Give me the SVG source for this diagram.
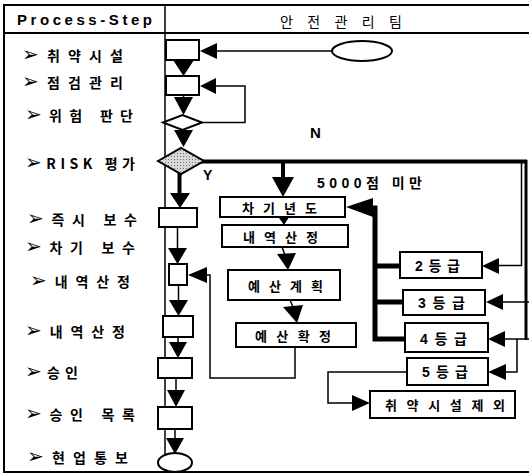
<svg xmlns="http://www.w3.org/2000/svg" width="529" height="474" viewBox="0 0 529 474">
<style>
.frame{stroke:#000;stroke-width:2;fill:none}
.box{fill:#fff;stroke:#000;stroke-width:2}
.ln{fill:none;stroke:#000;stroke-width:1.5}
.thk{fill:none;stroke:#000;stroke-width:4}
.bus{fill:none;stroke:#000;stroke-width:5}
.ah{fill:#000;stroke:none}
.lbl{font-family:"Noto Sans CJK KR","DejaVu Sans",sans-serif;font-size:14px;font-weight:bold;fill:#000}
.bul{font-family:"DejaVu Sans",sans-serif;font-size:20px;font-weight:normal}
.bt{font-family:"Noto Sans CJK KR","DejaVu Sans",sans-serif;font-size:13px;font-weight:bold;fill:#000}
.bb{font-family:"Liberation Sans","Noto Sans CJK KR",sans-serif;font-size:14px;font-weight:bold;fill:#000}
.hd{font-family:"Liberation Sans","Noto Sans CJK KR",sans-serif;font-size:15px;font-weight:bold;fill:#000}
</style>
<defs>
<pattern id="dots" width="3" height="3" patternUnits="userSpaceOnUse"><rect width="3" height="3" fill="#d8d8d8"/><rect width="1" height="1" fill="#707070"/></pattern>
</defs>
<rect width="529" height="474" fill="#fff"/>
<g id="frame">
<line class="frame" x1="3" y1="5" x2="529" y2="5"/>
<line class="frame" x1="3" y1="33" x2="529" y2="33"/>
<line class="frame" x1="3" y1="472" x2="529" y2="472"/>
<line class="frame" x1="4" y1="4" x2="4" y2="473"/>
<line class="frame" x1="165" y1="4" x2="165" y2="473" style="stroke-width:1.5"/>
<text class="hd" x="17" y="25" textLength="135" lengthAdjust="spacing">Process-Step</text>
<text class="lbl" x="280" y="27" textLength="122" lengthAdjust="spacing" style="font-weight:normal">안 전 관 리 팀</text>
</g>
<g id="labels">
<text class="lbl" x="22" y="61" textLength="101" lengthAdjust="spacing"><tspan class="bul">➢</tspan>취약시설</text>
<text class="lbl" x="22" y="88" textLength="101" lengthAdjust="spacing"><tspan class="bul">➢</tspan>점검관리</text>
<text class="lbl" x="25" y="121" textLength="108" lengthAdjust="spacing"><tspan class="bul">➢</tspan>위험 판단</text>
<text class="lbl" x="25" y="169" textLength="110" lengthAdjust="spacing"><tspan class="bul">➢</tspan>RISK 평가</text>
<text class="lbl" x="27" y="225" textLength="110" lengthAdjust="spacing"><tspan class="bul">➢</tspan>즉시 보수</text>
<text class="lbl" x="25" y="253" textLength="110" lengthAdjust="spacing"><tspan class="bul">➢</tspan>차기 보수</text>
<text class="lbl" x="30" y="287" textLength="100" lengthAdjust="spacing"><tspan class="bul">➢</tspan>내역산정</text>
<text class="lbl" x="25" y="337" textLength="100" lengthAdjust="spacing"><tspan class="bul">➢</tspan>내역산정</text>
<text class="lbl" x="25" y="378" textLength="53" lengthAdjust="spacing"><tspan class="bul">➢</tspan>승인</text>
<text class="lbl" x="25" y="420" textLength="110" lengthAdjust="spacing"><tspan class="bul">➢</tspan>승인 목록</text>
<text class="lbl" x="27" y="463" textLength="101" lengthAdjust="spacing"><tspan class="bul">➢</tspan>현업통보</text>
</g>
<g id="connectors">
<line class="ln" x1="332" y1="51" x2="216" y2="51"/>
<polygon class="ah" points="200,51 217,43 217,59"/>
<polygon class="ah" points="173,60 194,60 183.5,76"/>
<polyline class="ln" points="202,122.5 245,122.5 245,86 215,86"/>
<polygon class="ah" points="200,86 216,78 216,94"/>
<line class="ln" x1="183.5" y1="95" x2="183.5" y2="98"/>
<polygon class="ah" points="174,97 193,97 183.5,115"/>
<polygon class="ah" points="174,130 193,130 183.5,147"/>
<line class="thk" x1="179.5" y1="161" x2="179.5" y2="195"/>
<polygon class="ah" points="170,193 190,193 180,208"/>
<line class="thk" x1="179.5" y1="161.5" x2="527" y2="161.5"/>
<line class="thk" x1="283" y1="161" x2="283" y2="179"/>
<polygon class="ah" points="272,177 294,177 283,197"/>
<polyline class="ln" points="521.5,163 521.5,265.5 498,265.5"/>
<polygon class="ah" points="482,266 499,258 499,274"/>
<line class="ln" x1="526" y1="160" x2="526" y2="340" style="stroke-width:3"/>
<line class="ln" x1="529" y1="302" x2="502" y2="302"/>
<polygon class="ah" points="486,302 503,294 503,310"/>
<line class="ln" x1="529" y1="339" x2="504" y2="339"/>
<polygon class="ah" points="488,339 505,331 505,347"/>
<polyline class="ln" points="517,339 517,372 505,372"/>
<polygon class="ah" points="488,372 506,364 506,380"/>
<polyline class="bus" points="405,339 375,339 375,208 370,208"/>
<polygon class="ah" points="346,207 373,198 373,217"/>
<line class="bus" x1="375" y1="266" x2="400" y2="266"/>
<line class="bus" x1="375" y1="302" x2="403" y2="302"/>
<polyline class="ln" points="407,372 328,372 328,403 353,403"/>
<polygon class="ah" points="370,403 352,395 352,411"/>
<polygon class="ah" points="274,211 293,211 284,225"/>
<line class="ln" x1="282" y1="247" x2="285" y2="255"/>
<polygon class="ah" points="277,254 296,253 288,270"/>
<line class="ln" x1="290" y1="300" x2="293" y2="307"/>
<polygon class="ah" points="283,307 303,305 297,323"/>
<polyline class="ln" points="295,347 295,378 210,378 210,275 206,275"/>
<polygon class="ah" points="188,275 207,267 207,283"/>
<line class="ln" x1="177.5" y1="227" x2="177.5" y2="249"/>
<polygon class="ah" points="168,248 187,248 177.5,264"/>
<line class="ln" x1="178.5" y1="285" x2="178.5" y2="301"/>
<polygon class="ah" points="169,300 188,300 178.5,316"/>
<line class="ln" x1="178" y1="337" x2="178" y2="343"/>
<polygon class="ah" points="169,342 187,342 178,358"/>
<line class="ln" x1="176" y1="378" x2="176" y2="391"/>
<polygon class="ah" points="167,390 185,390 176,407"/>
<line class="ln" x1="175" y1="429" x2="175" y2="439"/>
<polygon class="ah" points="166,438 184,438 175,454"/>
</g>
<g id="n-start"><ellipse class="box" cx="362" cy="51" rx="30" ry="10"/></g>
<g id="n-facility"><rect class="box" x="166" y="40" width="33" height="20"/></g>
<g id="n-inspect"><rect class="box" x="166" y="76" width="33" height="19"/></g>
<g id="n-judge"><polygon class="box" points="163,122.5 182.5,115 202,122.5 182.5,130"/></g>
<g id="n-risk"><polygon class="box" points="158,161 181,148 204,161 181,174" style="fill:url(#dots)"/></g>
<g id="n-now"><rect class="box" x="159" y="208" width="38" height="19"/></g>
<g id="n-calc1"><rect class="box" x="169" y="264" width="18" height="21"/></g>
<g id="n-calc2"><rect class="box" x="163" y="316" width="30" height="21"/></g>
<g id="n-approve"><rect class="box" x="158" y="358" width="34" height="20"/></g>
<g id="n-list"><rect class="box" x="158" y="407" width="34" height="22"/></g>
<g id="n-end"><ellipse class="box" cx="175" cy="462.5" rx="17" ry="9.5"/></g>
<g id="n-next"><rect class="box" x="220" y="197" width="125" height="20"/><text class="bt" x="242" y="213" textLength="75" lengthAdjust="spacing">차기년도</text></g>
<g id="n-detail"><rect class="box" x="222" y="225" width="126" height="22"/><text class="bt" x="243" y="242" textLength="75" lengthAdjust="spacing">내역산정</text></g>
<g id="n-plan"><rect class="box" x="228" y="270" width="112" height="30"/><text class="bt" x="248" y="291" textLength="75" lengthAdjust="spacing">예산계획</text></g>
<g id="n-confirm"><rect class="box" x="236" y="323" width="120" height="24"/><text class="bt" x="255" y="341" textLength="76" lengthAdjust="spacing">예산확정</text></g>
<g id="n-g2"><rect class="box" x="400" y="252" width="82" height="26"/><text class="bb" x="415" y="271" textLength="45" lengthAdjust="spacing">2등급</text></g>
<g id="n-g3"><rect class="box" x="403" y="290" width="82" height="25"/><text class="bb" x="418" y="308" textLength="47" lengthAdjust="spacing">3등급</text></g>
<g id="n-g4"><rect class="box" x="405" y="323" width="83" height="29"/><text class="bb" x="420" y="344" textLength="47" lengthAdjust="spacing">4등급</text></g>
<g id="n-g5"><rect class="box" x="407" y="358" width="81" height="27"/><text class="bb" x="422" y="377" textLength="46" lengthAdjust="spacing">5등급</text></g>
<g id="n-exclude"><rect class="box" x="370" y="391" width="145" height="27"/><text class="bt" x="385" y="410" textLength="120" lengthAdjust="spacing">취약시설제외</text></g>
<g id="edge-labels">
<text class="bb" x="310" y="138" style="font-size:15px">N</text>
<text class="bb" x="203" y="180">Y</text>
<text class="bb" x="317" y="188" textLength="105" lengthAdjust="spacing">5000점 미만</text>
</g>
</svg>
